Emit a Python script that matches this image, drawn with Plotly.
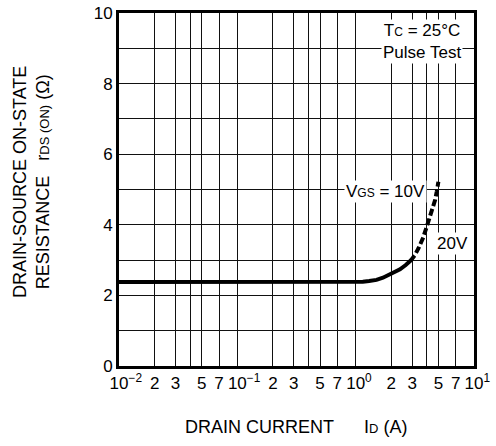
import plotly.graph_objects as go

# ---- data ----
id_10v = [0.01, 0.1, 0.5, 1.0, 1.15, 1.3, 1.5, 1.7, 1.93, 2.15, 2.37, 2.65, 2.95]
r_10v = [2.38, 2.38, 2.38, 2.38, 2.39, 2.41, 2.44, 2.50, 2.58, 2.66, 2.74, 2.86, 3.0]
id_20v = [2.9, 3.15, 3.39, 3.7, 3.99, 4.2, 4.40, 4.55, 4.69, 4.85, 5.0]
r_20v = [2.97, 3.13, 3.33, 3.62, 3.95, 4.18, 4.42, 4.55, 4.7, 4.95, 5.22]

HID = "<sup><span style='color:rgba(0,0,0,0)'>{}</span></sup>"
x_tickvals = [0.01, 0.02, 0.03, 0.04, 0.05, 0.07,
              0.1, 0.2, 0.3, 0.4, 0.5, 0.7,
              1, 2, 3, 4, 5, 7, 10]
x_ticktext = [HID.format("\u22122") + "10<sup>\u22122</sup>", "2", "3", "", "5", "7",
              HID.format("\u22121") + "10<sup>\u22121</sup>", "2", "3", "", "5", "7",
              HID.format("0") + "10<sup>0</sup>", "2", "3", "", "5", "7",
              HID.format("1") + "10<sup>1</sup>"]
y_tickvals = list(range(0, 11))
y_ticktext = [str(v) if v % 2 == 0 else "" for v in y_tickvals]

FONT = "Liberation Sans, Arial, Helvetica, sans-serif"
W, H = 496, 446
ML, MR, MT, MB = 119, 22, 13, 80
PW = W - ML - MR
PH = H - MT - MB


def px_to_paper_x(px):
    return (px - ML) / PW


def px_to_paper_y(py):
    return (H - MB - py) / PH


fig = go.Figure()
fig.add_trace(go.Scatter(x=id_10v, y=r_10v, mode="lines",
                         line=dict(color="black", width=4),
                         showlegend=False, hoverinfo="skip"))
fig.add_trace(go.Scatter(x=id_20v, y=r_20v, mode="lines",
                         line=dict(color="black", width=4, dash="7px,3px"),
                         showlegend=False, hoverinfo="skip"))

ann = []
ann.append(dict(x=0.25, y=4.93, xref="x", yref="y",
                text="V<span style='font-size:12px'>GS</span> = 10V",
                showarrow=False, bgcolor="white", font=dict(size=17, color="black", family=FONT),
                xanchor="center", yanchor="middle", borderpad=1))
ann.append(dict(x=0.815, y=3.46, xref="x", yref="y", text="20V",
                showarrow=False, bgcolor="white", font=dict(size=17, color="black", family=FONT),
                xanchor="center", yanchor="middle", borderpad=1))
ann.append(dict(x=0.56, y=9.2, xref="x", yref="y",
                text="T<span style='font-size:12px'>C</span> = 25\u00b0C<br>Pulse Test",
                showarrow=False, bgcolor="white", font=dict(size=17, color="black", family=FONT),
                xanchor="center", yanchor="middle", borderpad=1))
ann.append(dict(x=px_to_paper_x(296), y=px_to_paper_y(427), xref="paper", yref="paper",
                text="DRAIN CURRENT\u00a0\u00a0\u00a0\u00a0\u00a0\u00a0I<span style='font-size:13px'>D</span> (A)",
                showarrow=False, font=dict(size=18, color="black", family=FONT),
                xanchor="center", yanchor="middle"))
ann.append(dict(x=px_to_paper_x(31), y=px_to_paper_y(182), xref="paper", yref="paper",
                text="DRAIN-SOURCE ON-STATE<br>RESISTANCE\u00a0\u00a0\u00a0r<span style='font-size:13px'>DS (ON)</span> (\u03a9)",
                textangle=-90, showarrow=False, font=dict(size=18, color="black", family=FONT),
                xanchor="center", yanchor="middle"))

fig.update_layout(
    width=W, height=H,
    margin=dict(l=ML, r=MR, t=MT, b=MB, autoexpand=False),
    paper_bgcolor="white", plot_bgcolor="white",
    font=dict(family=FONT, size=17, color="black"),
    annotations=ann,
    xaxis=dict(type="log", range=[-2, 1], tickmode="array",
               tickvals=x_tickvals, ticktext=x_ticktext, tickangle=0,
               showgrid=True, gridcolor="#111", gridwidth=1,
               showline=True, linecolor="black", linewidth=3, mirror=True,
               ticks="", zeroline=False, tickfont=dict(size=17), automargin=False,
               ticklabeloverflow="allow"),
    yaxis=dict(range=[0, 10], tickmode="array",
               tickvals=y_tickvals, ticktext=y_ticktext,
               showgrid=True, gridcolor="#111", gridwidth=1,
               showline=True, linecolor="black", linewidth=3, mirror=True,
               ticks="", zeroline=False, tickfont=dict(size=17), automargin=False,
               ticklabeloverflow="allow"),
)

fig.write_html("out.html", config={"displayModeBar": False},
               post_script="document.body.style.margin='0';")
